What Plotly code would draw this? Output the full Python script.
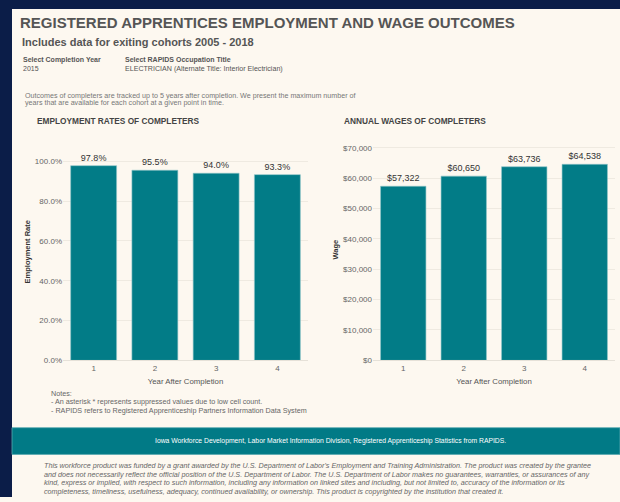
import plotly.graph_objects as go

years = ["1", "2", "3", "4"]
emp_rate = [0.978, 0.955, 0.940, 0.933]
emp_labels = ["97.8%", "95.5%", "94.0%", "93.3%"]
wages = [57322, 60650, 63736, 64538]
wage_labels = ["$57,322", "$60,650", "$63,736", "$64,538"]
emp_ticks = [0, 0.2, 0.4, 0.6, 0.8, 1.0]
wage_ticks = [0, 10000, 20000, 30000, 40000, 50000, 60000, 70000]
wage_ticktext = ["$0", "$10,000", "$20,000", "$30,000", "$40,000", "$50,000", "$60,000", "$70,000"]

W, H = 620, 502
NAVY = "#0b1d48"
CREAM = "#fdf8f0"
TEAL = "#027c87"
FONT = "Liberation Sans, Arial, sans-serif"

def px(x):
    return x / W

def py(y):
    return 1 - y / H

fig = go.Figure()
fig.add_trace(go.Bar(x=years, y=emp_rate, text=emp_labels, textposition="outside",
                     marker=dict(color=TEAL, line=dict(color="#8fc4c8", width=0.6)),
                     textfont=dict(size=9, color="#333333", family=FONT),
                     cliponaxis=False, xaxis="x", yaxis="y", width=0.75, hoverinfo="skip"))
fig.add_trace(go.Bar(x=years, y=wages, text=wage_labels, textposition="outside",
                     marker=dict(color=TEAL, line=dict(color="#8fc4c8", width=0.6)),
                     textfont=dict(size=9, color="#333333", family=FONT),
                     cliponaxis=False, xaxis="x2", yaxis="y2", width=0.75, hoverinfo="skip"))

ybot, ytop = py(364), py(140)
axcommon = dict(showline=False, zeroline=False, ticks="",
                tickfont=dict(size=8, color="#666666", family=FONT))
xcommon = dict(showgrid=False, showline=True, linecolor="#e6e1d8", linewidth=1, ticks="",
               tickfont=dict(size=8, color="#666666", family=FONT),
               title=dict(text="Year After Completion", font=dict(size=7.8, color="#555555"), standoff=6))
fig.update_layout(
    width=W, height=H, margin=dict(l=0, r=0, t=0, b=0),
    paper_bgcolor=CREAM, plot_bgcolor=CREAM, showlegend=False,
    font=dict(family=FONT),
    xaxis=dict(domain=[px(63), px(308)], anchor="y", **xcommon),
    yaxis=dict(domain=[ybot, ytop], anchor="x", range=[0, 1.114], tickvals=emp_ticks,
               tickformat=".1%", showgrid=True, gridcolor="#efeae1", gridwidth=1, **axcommon),
    xaxis2=dict(domain=[px(373), px(615)], anchor="y2", **xcommon),
    yaxis2=dict(domain=[ybot, ytop], anchor="x2", range=[0, 73000], tickvals=wage_ticks,
                ticktext=wage_ticktext, showgrid=True, gridcolor="#efeae1", gridwidth=1, **axcommon),
)

shapes = [
    dict(type="rect", xref="paper", yref="paper", x0=0, x1=px(12), y0=0, y1=1,
         fillcolor=NAVY, line=dict(width=0), layer="below"),
    dict(type="rect", xref="paper", yref="paper", x0=0, x1=1, y0=py(9), y1=1,
         fillcolor=NAVY, line=dict(width=0), layer="below"),
    dict(type="rect", xref="paper", yref="paper", x0=px(12), x1=1, y0=py(459), y1=py(432),
         fillcolor="#017a86", line=dict(width=0.8, color="#5aa9b0"), layer="below"),
]
fig.update_layout(shapes=shapes)

def txt(x, y, s, size, color="#555555", bold=False, italic=False, anchor="left", angle=0):
    if bold:
        s = "<b>" + s + "</b>"
    if italic:
        s = "<i>" + s + "</i>"
    fig.add_annotation(x=px(x), y=py(y), xref="paper", yref="paper", text=s, showarrow=False,
                       xanchor=anchor, yanchor="middle", textangle=angle,
                       font=dict(size=size, color=color, family=FONT))

txt(18, 23, "REGISTERED APPRENTICES EMPLOYMENT AND WAGE OUTCOMES", 15, "#555555", bold=True)
txt(20, 42, "Includes data for exiting cohorts 2005 - 2018", 11, "#555555", bold=True)
txt(21, 61, "Select Completion Year", 7, "#555555", bold=True)
txt(21, 69.5, "2015", 7, "#555555")
txt(123, 61, "Select RAPIDS Occupation Title", 7, "#555555", bold=True)
txt(123, 69.5, "ELECTRICIAN (Alternate Title: Interior Electrician)", 7.1, "#555555")
txt(23, 96.5, "Outcomes of completers are tracked up to 5 years after completion. We present the maximum number of", 7.15, "#777777")
txt(23, 104.5, "years that are available for each cohort at a given point in time.", 7.15, "#777777")

txt(35, 122, "EMPLOYMENT RATES OF COMPLETERS", 8.3, "#444444", bold=True)
txt(342, 122, "ANNUAL WAGES OF COMPLETERS", 8.3, "#444444", bold=True)
txt(27, 255, "Employment Rate", 7.5, "#333333", bold=True, anchor="center", angle=-90)
txt(335, 252, "Wage", 7.5, "#333333", bold=True, anchor="center", angle=-90)

txt(49, 397.5, "Notes:", 7.2, "#666666")
txt(49, 406, "- An asterisk * represents suppressed values due to low cell count.", 7.2, "#666666")
txt(49, 414.5, "- RAPIDS refers to Registered Apprenticeship Partners Information Data System", 7.2, "#666666")

txt(330, 445.5, "Iowa Workforce Development, Labor Market Information Division, Registered Apprenticeship Statistics from RAPIDS.", 6.8, "#ffffff", anchor="center")

disc = [
    "This workforce product was funded by a grant awarded by the U.S. Department of Labor's Employment and Training Administration. The product was created by the grantee",
    "and does not necessarily reflect the official position of the U.S. Department of Labor. The U.S. Department of Labor makes no guarantees, warranties, or assurances of any",
    "kind, express or implied, with respect to such information, including any information on linked sites and including, but not limited to, accuracy of the information or its",
    "completeness, timeliness, usefulness, adequacy, continued availability, or ownership. This product is copyrighted by the institution that created it.",
]
for i, line in enumerate(disc):
    txt(42, 470.5 + i * 8.5, line, 7.2, "#666666", italic=True)

fig.write_html("out.html")
